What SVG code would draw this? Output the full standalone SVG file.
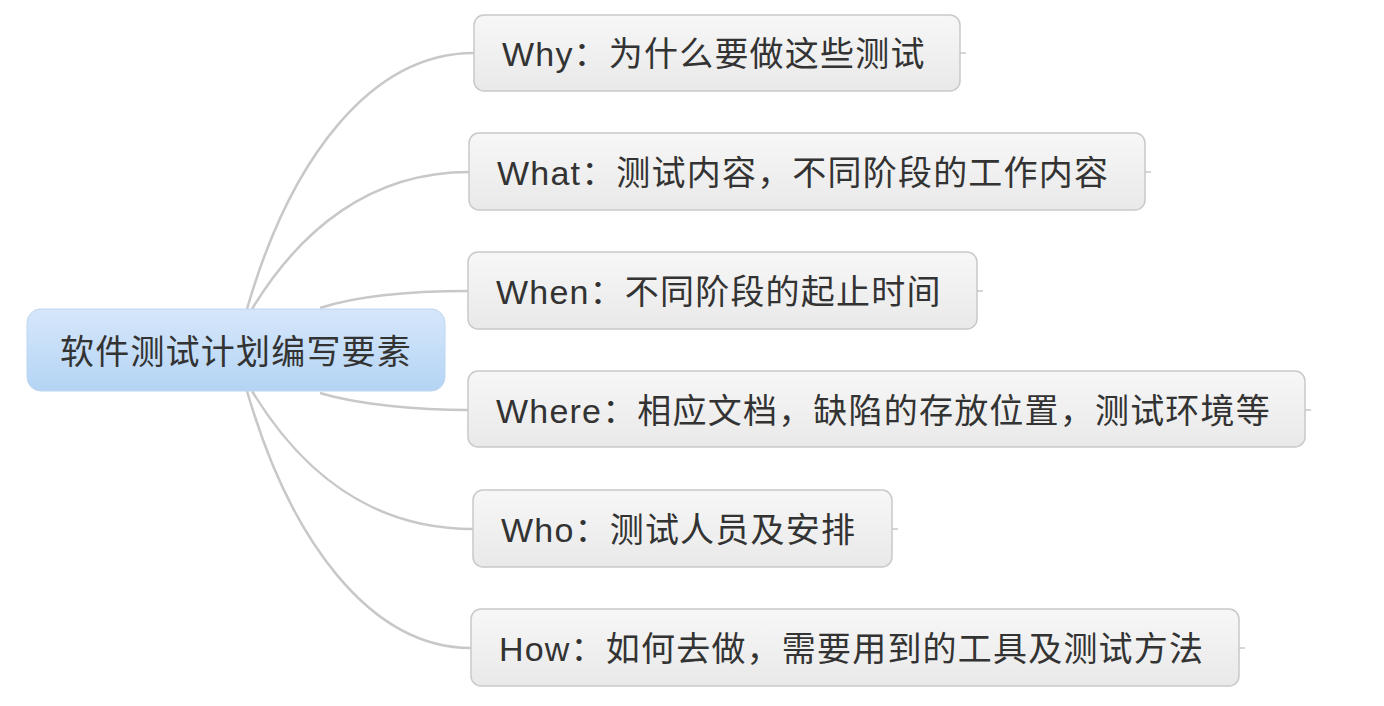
<svg xmlns="http://www.w3.org/2000/svg" width="1384" height="706" viewBox="0 0 1384 706">
<style>
.c{fill:none;stroke:#c8c8c8;stroke-width:2.5}
.n{fill:url(#g);stroke:#c9c9c9;stroke-width:1.5}
.t{font-family:"Liberation Sans","Noto Sans CJK SC",sans-serif;font-size:34px;letter-spacing:1.2px;fill:#333}
.s{stroke:#c8c8c8;stroke-width:1.5}
</style>
<defs>
<linearGradient id="g" x1="0" y1="0" x2="0" y2="1"><stop offset="0" stop-color="#f7f7f7"/><stop offset="1" stop-color="#e9e9e9"/></linearGradient>
<linearGradient id="b" x1="0" y1="0" x2="0" y2="1"><stop offset="0" stop-color="#d6e7fa"/><stop offset="1" stop-color="#b4d4f5"/></linearGradient>
</defs>
<g id="connectors">
<path class="c" d="M247,309 C290,160 370,53 474,53"/>
<path class="c" d="M252,309 C300,230 370,172 469,172"/>
<path class="c" d="M320,308 C360,295 420,291 468,291"/>
<path class="c" d="M320,393 C360,405 420,410 468,410"/>
<path class="c" d="M252,391 C300,470 370,529 473,529"/>
<path class="c" d="M247,391 C290,540 370,648 471,648"/>
<path class="s" d="M960,53h6M1145,172h6M977,291h6M1305,410h6M892,529h6M1239,648h6"/>
</g>
<g id="root"><rect x="27" y="309" width="418" height="82" rx="14" fill="url(#b)" stroke="#bcd6f2"/><text class="t" x="236" y="364" text-anchor="middle">软件测试计划编写要素</text></g>
<g id="why"><rect class="n" x="474" y="15" width="486" height="76" rx="10"/><text class="t" x="502" y="66">Why：为什么要做这些测试</text></g>
<g id="what"><rect class="n" x="469" y="133" width="676" height="77" rx="10"/><text class="t" x="497" y="185">What：测试内容，不同阶段的工作内容</text></g>
<g id="when"><rect class="n" x="468" y="252" width="509" height="77" rx="10"/><text class="t" x="496" y="304">When：不同阶段的起止时间</text></g>
<g id="where"><rect class="n" x="468" y="371" width="837" height="76" rx="10"/><text class="t" x="496" y="423">Where：相应文档，缺陷的存放位置，测试环境等</text></g>
<g id="who"><rect class="n" x="473" y="490" width="419" height="77" rx="10"/><text class="t" x="501" y="542">Who：测试人员及安排</text></g>
<g id="how"><rect class="n" x="471" y="609" width="768" height="77" rx="10"/><text class="t" x="499" y="661">How：如何去做，需要用到的工具及测试方法</text></g>
</svg>
